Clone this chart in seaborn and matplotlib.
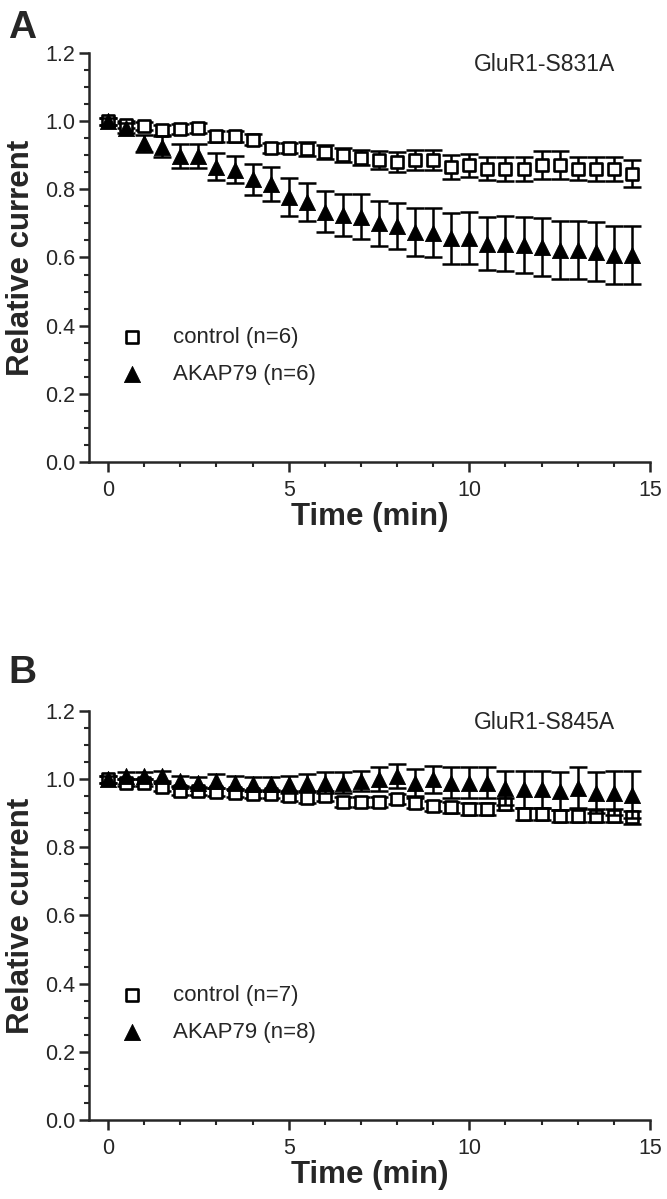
import matplotlib
matplotlib.use("Agg")
import matplotlib.pyplot as plt
import seaborn as sns

# time points (min)
tiempo = [0, 0.5, 1, 1.5, 2, 2.5, 3, 3.5, 4, 4.5, 5, 5.5, 6, 6.5, 7,
          7.5, 8, 8.5, 9, 9.5, 10, 10.5, 11, 11.5, 12, 12.5, 13, 13.5, 14, 14.5]

# panel A: GluR1-S831A
ctrl_a = [1.00, 0.99, 0.985, 0.975, 0.978, 0.98, 0.955, 0.955, 0.946, 0.922,
          0.922, 0.918, 0.91, 0.90, 0.893, 0.886, 0.88, 0.886, 0.886, 0.866,
          0.87, 0.861, 0.86, 0.86, 0.871, 0.871, 0.861, 0.86, 0.86, 0.846]
ctrl_a_err = [0.01, 0.01, 0.012, 0.015, 0.015, 0.015, 0.015, 0.015, 0.015, 0.015,
              0.015, 0.02, 0.02, 0.02, 0.022, 0.025, 0.03, 0.03, 0.03, 0.035,
              0.035, 0.035, 0.035, 0.035, 0.04, 0.04, 0.035, 0.035, 0.035, 0.04]
akap_a = [1.00, 0.98, 0.935, 0.925, 0.897, 0.897, 0.866, 0.858, 0.829, 0.815,
          0.778, 0.763, 0.734, 0.724, 0.72, 0.70, 0.692, 0.675, 0.672, 0.656,
          0.656, 0.641, 0.641, 0.636, 0.631, 0.622, 0.622, 0.617, 0.607, 0.607]
akap_a_err = [0.01, 0.015, 0.025, 0.03, 0.035, 0.035, 0.04, 0.04, 0.045, 0.05,
              0.055, 0.055, 0.06, 0.062, 0.065, 0.066, 0.068, 0.07, 0.072, 0.075,
              0.076, 0.078, 0.08, 0.082, 0.085, 0.085, 0.085, 0.086, 0.086, 0.086]

# panel B: GluR1-S845A
ctrl_b = [1.00, 0.99, 0.99, 0.976, 0.966, 0.966, 0.963, 0.959, 0.956, 0.956,
          0.951, 0.946, 0.951, 0.932, 0.932, 0.932, 0.941, 0.929, 0.922, 0.917,
          0.912, 0.912, 0.927, 0.897, 0.897, 0.893, 0.893, 0.893, 0.893, 0.888]
ctrl_b_err = [0.01, 0.01, 0.01, 0.012, 0.012, 0.012, 0.012, 0.012, 0.012, 0.012,
              0.015, 0.015, 0.015, 0.015, 0.015, 0.015, 0.015, 0.015, 0.015, 0.015,
              0.018, 0.018, 0.018, 0.018, 0.018, 0.018, 0.02, 0.02, 0.02, 0.02]
akap_b = [1.00, 1.01, 1.01, 1.01, 0.995, 0.99, 0.995, 0.99, 0.985, 0.985,
          0.985, 0.99, 0.99, 0.99, 0.995, 1.00, 1.01, 0.99, 1.00, 0.99,
          0.99, 0.99, 0.975, 0.97, 0.97, 0.965, 0.975, 0.96, 0.96, 0.955]
akap_b_err = [0.01, 0.01, 0.01, 0.015, 0.015, 0.015, 0.02, 0.02, 0.02, 0.02,
              0.025, 0.025, 0.03, 0.03, 0.03, 0.035, 0.035, 0.04, 0.04, 0.045,
              0.045, 0.045, 0.05, 0.055, 0.055, 0.055, 0.06, 0.06, 0.065, 0.07]

paneles = [
    ("A", "GluR1-S831A", ctrl_a, ctrl_a_err, akap_a, akap_a_err, "control (n=6)", "AKAP79 (n=6)"),
    ("B", "GluR1-S845A", ctrl_b, ctrl_b_err, akap_b, akap_b_err, "control (n=7)", "AKAP79 (n=8)"),
]

sns.set_style("ticks")
plt.rcParams["font.family"] = ["Liberation Sans", "DejaVu Sans"]

fig = plt.figure(figsize=(6.67, 11.99), dpi=100)
posiciones = [[0.1334, 0.6147, 0.8411, 0.3411], [0.1334, 0.0659, 0.8411, 0.3411]]
letra_y = [0.992, 0.454]

for (letra, titulo, ctrl, ctrl_err, akap, akap_err, lab_c, lab_k), pos, ly in zip(paneles, posiciones, letra_y):
    ax = fig.add_axes(pos)
    # error bars first, then markers
    ax.errorbar(tiempo, ctrl, yerr=ctrl_err, fmt="none", ecolor="black",
                elinewidth=1.8, capsize=6.5, capthick=1.8, zorder=2)
    sns.scatterplot(x=tiempo, y=ctrl, ax=ax, marker="s", s=85, facecolor="white",
                    edgecolor="black", linewidth=1.9, label=lab_c, zorder=3)
    ax.errorbar(tiempo, akap, yerr=akap_err, fmt="none", ecolor="black",
                elinewidth=1.8, capsize=6.5, capthick=1.8, zorder=4)
    sns.scatterplot(x=tiempo, y=akap, ax=ax, marker="^", s=135, color="black",
                    edgecolor="black", linewidth=0.6, label=lab_k, zorder=5)

    ax.set_xlim(-0.53, 15)
    ax.set_ylim(0, 1.2)
    ax.set_xticks([0, 5, 10, 15])
    ax.set_xticks(range(0, 16), minor=True)
    ax.set_yticks([0.0, 0.2, 0.4, 0.6, 0.8, 1.0, 1.2])
    ax.set_yticks([i * 0.05 for i in range(25)], minor=True)
    ax.set_yticklabels(["0.0", "0.2", "0.4", "0.6", "0.8", "1.0", "1.2"])
    ax.tick_params(axis="both", which="major", direction="out", length=7, width=1.8,
                   labelsize=15.5, pad=3)
    ax.tick_params(axis="x", which="major", pad=6)
    ax.tick_params(axis="both", which="minor", direction="out", length=3.5, width=1.5)
    sns.despine(ax=ax)
    for s in ["left", "bottom"]:
        ax.spines[s].set_linewidth(1.8)

    ax.set_xlabel("Time (min)", fontsize=22.5, fontweight="bold", labelpad=1)
    ax.set_ylabel("Relative current", fontsize=22.5, fontweight="bold")
    ax.yaxis.set_label_coords(-0.095, 0.5)

    ax.text(12.07, 1.165, titulo, fontsize=16.5, ha="center", va="center")

    ax.legend(loc="center left", bbox_to_anchor=(0.029, 0.26), frameon=False,
              fontsize=16, labelspacing=0.72, handletextpad=1.35, handlelength=1.0,
              borderaxespad=0.3)

    fig.text(0.012, ly, letra, fontsize=28, fontweight="bold", va="top", ha="left")

fig.savefig("out.png", dpi=100)
